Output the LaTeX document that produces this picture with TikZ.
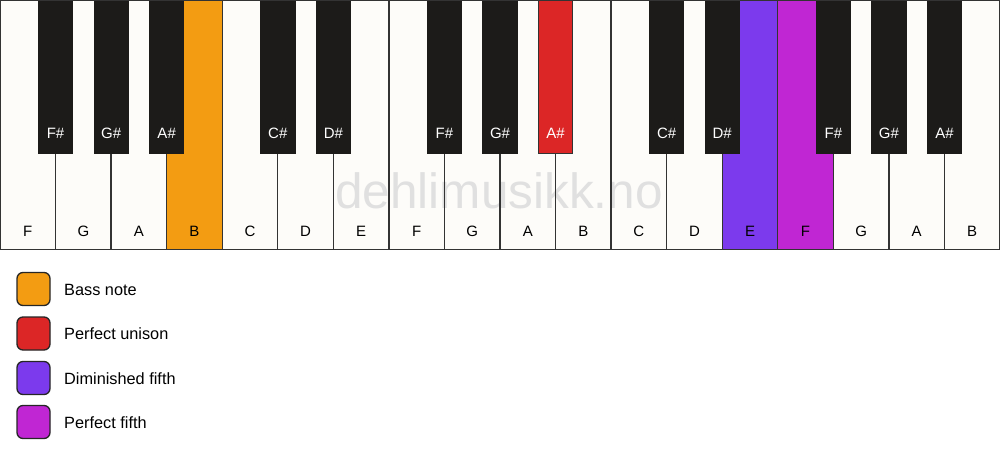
\documentclass[tikz,border=0pt]{standalone}
\usepackage{fontspec}
\setmainfont{Liberation Sans}
\definecolor{wkey}{HTML}{FDFCF9}
\definecolor{bkey}{HTML}{1C1B19}
\definecolor{keyline}{HTML}{333333}
\definecolor{cbass}{HTML}{F39C12}
\definecolor{cunison}{HTML}{DC2626}
\definecolor{cdim}{HTML}{7C3AED}
\definecolor{cfifth}{HTML}{C026D3}
\definecolor{wmark}{HTML}{E0E0E0}
\tikzset{
  whitefill/.style={fill=wkey},
  whitekey/.style={draw=keyline, line width=1.3pt},
  blackkey/.style={fill=bkey, draw=bkey, line width=0.8pt},
  wlabel/.style={font=\fontsize{15}{18}\selectfont, text=black, anchor=base, inner sep=0pt},
  blabel/.style={font=\fontsize{15}{18}\selectfont, text=white, anchor=base, inner sep=0pt},
  legbox/.style={draw=black!85, line width=1.3pt, rounded corners=6pt, minimum size=33pt, inner sep=0pt},
  legtext/.style={font=\fontsize{16.3}{19}\selectfont, anchor=west, inner sep=0pt},
}
\begin{document}
\begin{tikzpicture}[x=1pt,y=-1pt]
\fill[white] (0,0) rectangle (1000,461);
\useasboundingbox (0,0) rectangle (1000,461);
\def\kw{55.5556}
% white key fills
\foreach \i/\c in {0/wkey,1/wkey,2/wkey,3/cbass,4/wkey,5/wkey,6/wkey,7/wkey,8/wkey,9/wkey,10/wkey,11/wkey,12/wkey,13/cdim,14/cfifth,15/wkey,16/wkey,17/wkey}{
  \path[whitefill, fill=\c] (\i*\kw,0.6) rectangle ({(\i+1)*\kw},249.5);
}
% watermark
\node[font=\fontsize{49.5}{52}\selectfont, text=wmark, anchor=base, inner sep=0pt] (wm) at (499,208) {dehlimusikk.no};
% white key outlines and labels
\foreach \n/\i in {F/0,G/1,A/2,B/3,C/4,D/5,E/6,F/7,G/8,A/9,B/10,C/11,D/12,E/13,F/14,G/15,A/16,B/17}{
  \path[whitekey] (\i*\kw,0.6) rectangle ({(\i+1)*\kw},249.5);
  \node[wlabel] (w\i) at ({(\i+0.5)*\kw},236) {\n};
}
% black keys
\foreach \n/\i/\c/\d in {F\#/1/bkey/bkey,G\#/2/bkey/bkey,A\#/3/bkey/bkey,C\#/5/bkey/bkey,D\#/6/bkey/bkey,F\#/8/bkey/bkey,G\#/9/bkey/bkey,A\#/10/cunison/keyline,C\#/12/bkey/bkey,D\#/13/bkey/bkey,F\#/15/bkey/bkey,G\#/16/bkey/bkey,A\#/17/bkey/bkey}{
  \path[blackkey, fill=\c, draw=\d] ({\i*\kw-17.2},0.6) rectangle ({\i*\kw+17.2},153);
  \node[blabel] (b\i) at ({\i*\kw},138) {\n};
}
% outer border top
\draw[keyline, line width=1.3pt] (0,0.6) -- (1000,0.6);
% legend
\node[legbox, fill=cbass] (l1) at (33.5,289) {};
\node[legtext] (t1) at (64,289.5) {Bass note};
\node[legbox, fill=cunison] (l2) at (33.5,333.5) {};
\node[legtext] (t2) at (64,334) {Perfect unison};
\node[legbox, fill=cdim] (l3) at (33.5,378) {};
\node[legtext] (t3) at (64,378.5) {Diminished fifth};
\node[legbox, fill=cfifth] (l4) at (33.5,422) {};
\node[legtext] (t4) at (64,422.5) {Perfect fifth};
\end{tikzpicture}
\end{document}
